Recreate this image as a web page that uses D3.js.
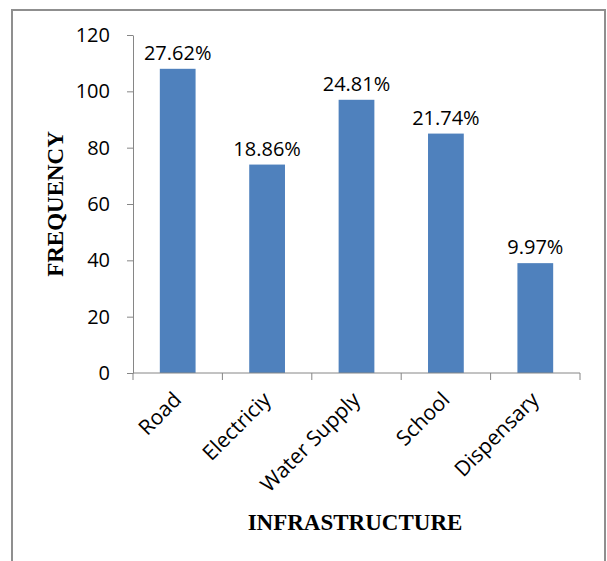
<!DOCTYPE html>
<html>
<head>
<meta charset="utf-8">
<script src="https://cdn.jsdelivr.net/npm/d3@7"></script>
<style>
  body { margin: 0; background: #fff; }
  svg { display: block; }
</style>
</head>
<body>
<svg id="chart"></svg>
<script>
// values
const categories = ["Road", "Electriciy", "Water Supply", "School", "Dispensary"];
const frequency = [108, 74, 97, 85, 39];
const percentLabels = ["27.62%", "18.86%", "24.81%", "21.74%", "9.97%"];
const yTicks = [0, 20, 40, 60, 80, 100, 120];

const width = 607, height = 561;
const margin = { top: 35, right: 27, bottom: 188, left: 133 };
const plotW = width - margin.left - margin.right;
const plotH = height - margin.top - margin.bottom;

const svg = d3.select("#chart").attr("width", width).attr("height", height);

// outer frame
svg.append("rect")
  .attr("x", 12).attr("y", 10)
  .attr("width", 593).attr("height", 560)
  .attr("fill", "none")
  .attr("stroke", "#8f8f8f")
  .attr("stroke-width", 2);

const g = svg.append("g")
  .attr("transform", `translate(${margin.left},${margin.top})`);

const x = d3.scaleBand().domain(categories).range([0, plotW]).padding(0);
const y = d3.scaleLinear().domain([0, 120]).range([plotH, 0]);

const axisColor = "#868686";
const labelFont = "'Open Sans', sans-serif";

// y axis
const yAxis = g.append("g")
  .call(d3.axisLeft(y).tickValues(yTicks).tickSize(6).tickPadding(17).tickSizeOuter(0));
yAxis.select(".domain").attr("stroke", axisColor);
yAxis.selectAll(".tick line").attr("stroke", axisColor);
yAxis.selectAll(".tick text")
  .attr("fill", "#000")
  .style("font-family", labelFont)
  .style("font-size", "20px");

// bars
const data = categories.map((c, i) => ({ cat: c, value: frequency[i], label: percentLabels[i] }));
const barW = x.bandwidth() * 0.4;

g.selectAll("rect.bar")
  .data(data)
  .join("rect")
  .attr("class", "bar")
  .attr("x", d => x(d.cat) + (x.bandwidth() - barW) / 2)
  .attr("y", d => y(d.value))
  .attr("width", barW)
  .attr("height", d => plotH - y(d.value))
  .attr("fill", "#4f81bd");

// value labels
g.selectAll("text.val")
  .data(data)
  .join("text")
  .attr("class", "val")
  .attr("x", d => x(d.cat) + x.bandwidth() / 2)
  .attr("y", d => y(d.value) - 9)
  .attr("text-anchor", "middle")
  .style("font-family", labelFont)
  .style("font-size", "20px")
  .attr("fill", "#000")
  .text(d => d.label);

// x axis: line, boundary ticks, rotated labels
const xAxis = g.append("g").attr("transform", `translate(0,${plotH})`);
xAxis.append("line")
  .attr("x1", 0).attr("x2", plotW)
  .attr("stroke", axisColor);

const bounds = categories.map(c => x(c)).concat([x.range()[1]]);
xAxis.selectAll("line.tick")
  .data(bounds)
  .join("line")
  .attr("class", "tick")
  .attr("x1", d => d).attr("x2", d => d)
  .attr("y1", 0).attr("y2", 7)
  .attr("stroke", axisColor);

xAxis.selectAll("text.cat")
  .data(categories)
  .join("text")
  .attr("class", "cat")
  .attr("transform", d => `translate(${x(d) + x.bandwidth() / 2 + 5},${28}) rotate(-45)`)
  .attr("text-anchor", "end")
  .style("font-family", labelFont)
  .style("font-size", "21px")
  .attr("fill", "#000")
  .text(d => d);

// axis titles
svg.append("text")
  .attr("x", 355).attr("y", 530)
  .attr("text-anchor", "middle")
  .style("font-family", "'Liberation Serif', 'Times New Roman', serif")
  .style("font-weight", "bold")
  .style("font-size", "23px")
  .text("INFRASTRUCTURE");

svg.append("text")
  .attr("transform", `translate(63,${margin.top + plotH / 2}) rotate(-90)`)
  .attr("text-anchor", "middle")
  .style("font-family", "'Liberation Serif', 'Times New Roman', serif")
  .style("font-weight", "bold")
  .style("font-size", "23px")
  .text("FREQUENCY");
</script>
</body>
</html>
